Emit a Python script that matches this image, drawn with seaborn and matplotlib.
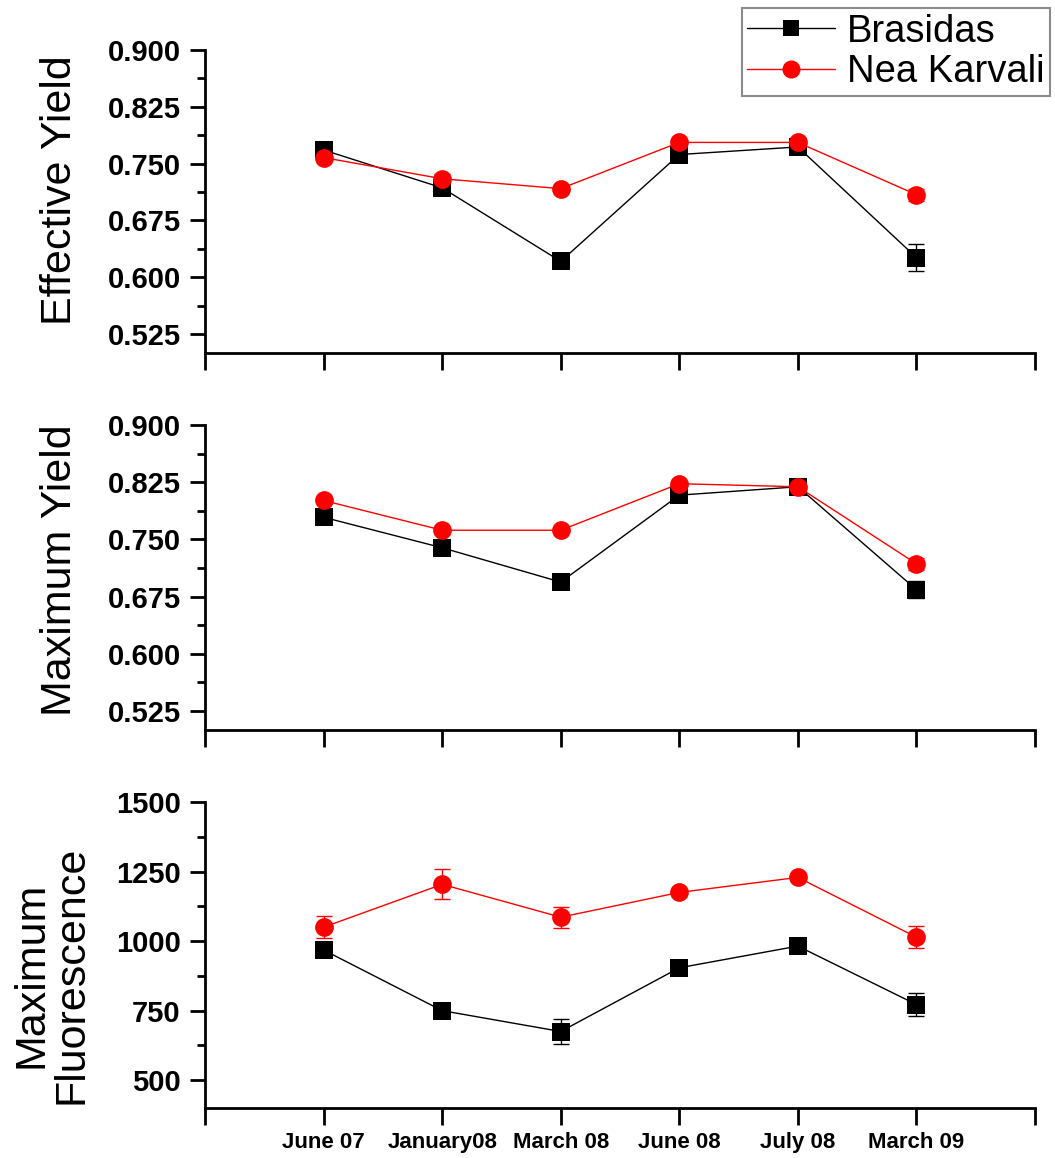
import matplotlib
matplotlib.use('Agg')
import matplotlib.pyplot as plt
from matplotlib.lines import Line2D
from matplotlib.ticker import AutoMinorLocator, FormatStrFormatter
import seaborn as sns
import pandas as pd
import numpy as np

months = ['June 07', 'January08', 'March 08', 'June 08', 'July 08', 'March 09']
sites = ['Brasidas', 'Nea Karvali']

eff_brasidas = [0.768, 0.718, 0.621, 0.762, 0.772, 0.626]
eff_brasidas_err = [0.005, 0.004, 0.004, 0.004, 0.003, 0.018]
eff_karvali = [0.758, 0.730, 0.717, 0.778, 0.778, 0.709]
eff_karvali_err = [0.004, 0.006, 0.003, 0.003, 0.004, 0.008]

max_brasidas = [0.779, 0.739, 0.694, 0.808, 0.819, 0.684]
max_brasidas_err = [0.004, 0.004, 0.003, 0.003, 0.004, 0.011]
max_karvali = [0.801, 0.762, 0.762, 0.823, 0.819, 0.718]
max_karvali_err = [0.003, 0.003, 0.003, 0.004, 0.003, 0.008]

fl_brasidas = [968, 750, 675, 904, 982, 772]
fl_brasidas_err = [12, 22, 46, 8, 10, 40]
fl_karvali = [1050, 1204, 1086, 1175, 1229, 1014]
fl_karvali_err = [40, 54, 38, 10, 10, 40]

colors = {'Brasidas': '#000000', 'Nea Karvali': '#ff0000'}
markers = {'Brasidas': 's', 'Nea Karvali': 'o'}

panels = [
    ('Effective Yield', eff_brasidas, eff_brasidas_err, eff_karvali, eff_karvali_err,
     (0.5, 0.9), np.arange(0.525, 0.901, 0.075), '%.3f'),
    ('Maximum Yield', max_brasidas, max_brasidas_err, max_karvali, max_karvali_err,
     (0.5, 0.9), np.arange(0.525, 0.901, 0.075), '%.3f'),
    ('Maximum\nFluorescence', fl_brasidas, fl_brasidas_err, fl_karvali, fl_karvali_err,
     (400, 1500), np.arange(500, 1501, 250), '%d'),
]

W, H = 1055, 1158
sns.set_style('white')
plt.rcParams['font.family'] = ['Liberation Sans', 'DejaVu Sans']
plt.rcParams['text.color'] = 'black'
plt.rcParams['xtick.color'] = 'black'
plt.rcParams['ytick.color'] = 'black'
plt.rcParams['axes.labelcolor'] = 'black'
fig = plt.figure(figsize=(W / 100, H / 100), dpi=100)

# axes boxes in pixels: (top, bottom)
boxes = [(50, 353), (425, 730), (802, 1108)]
label_pos = [(60, 190), (60, 570), (52, 975)]
left, right = 205, 1035

pos = np.arange(1, len(months) + 1)

for i, (label, b, be, k, ke, ylim, yticks, fmt) in enumerate(panels):
    top, bot = boxes[i]
    ax = fig.add_axes([left / W, 1 - bot / H, (right - left) / W, (bot - top) / H])
    df = pd.DataFrame({
        'pos': np.concatenate([pos, pos]),
        'value': b + k,
        'err': be + ke,
        'site': [sites[0]] * len(months) + [sites[1]] * len(months),
    })
    for s in sites:
        d = df[df['site'] == s]
        ax.errorbar(d['pos'], d['value'], yerr=d['err'], fmt='none',
                    ecolor=colors[s], elinewidth=1, capsize=6, capthick=1, zorder=2)
    sns.lineplot(data=df, x='pos', y='value', hue='site', style='site',
                 palette=colors, markers=markers, dashes=False, sort=False,
                 linewidth=1, markersize=13.5, markeredgewidth=0,
                 legend=False, ax=ax, zorder=3)

    ax.set_xlim(0, 7)
    ax.set_ylim(*ylim)
    ax.set_xticks(range(0, 8))
    if i == 2:
        ax.set_xticklabels([''] + months + [''], fontweight='bold', fontsize=16)
    else:
        ax.set_xticklabels([''] * 8)
    ax.set_yticks(yticks)
    ax.yaxis.set_major_formatter(FormatStrFormatter(fmt))
    ax.yaxis.set_minor_locator(AutoMinorLocator(2))
    for t in ax.get_yticklabels():
        t.set_fontweight('bold')
        t.set_fontsize(21)
    ax.set_xlabel('')
    ax.set_ylabel('')
    sns.despine(ax=ax)
    for sp in ['left', 'bottom']:
        ax.spines[sp].set_linewidth(2)
        ax.spines[sp].set_color('black')
    ax.tick_params(axis='y', which='major', direction='out', length=10.5, width=2, pad=7, left=True)
    ax.tick_params(axis='y', which='minor', direction='out', length=6, width=2, left=True)
    ax.tick_params(axis='x', which='major', direction='out', length=12, width=2, pad=5, bottom=True)
    ax.patch.set_alpha(0)

    lx, ly = label_pos[i]
    fig.text(lx / W, 1 - ly / H, label, rotation=90, ha='center', va='center',
             fontsize=31, linespacing=1.0, multialignment='center')

handles = [
    Line2D([], [], color=colors[s], marker=markers[s], markersize=11 if s == 'Brasidas' else 13,
           markeredgewidth=0, linewidth=1)
    for s in sites
]
leg = fig.legend(handles, sites, loc='upper right', bbox_to_anchor=(1050 / W, 1 - 8 / H),
                 borderaxespad=0, fontsize=27.5, frameon=True, fancybox=False,
                 edgecolor='#707070', handlelength=2.3, handletextpad=0.3,
                 labelspacing=0.12, borderpad=0.15)
leg.get_frame().set_linewidth(1.5)

fig.savefig('out.png', dpi=100)
